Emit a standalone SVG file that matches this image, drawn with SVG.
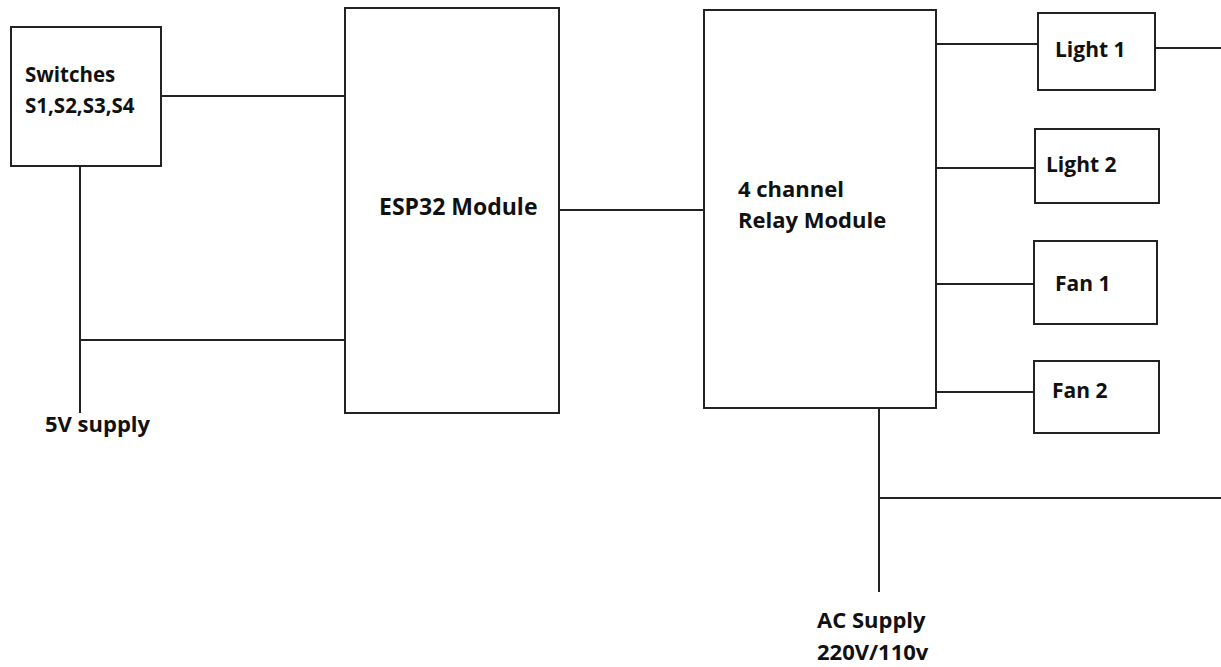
<svg xmlns="http://www.w3.org/2000/svg" width="1221" height="667" viewBox="0 0 1221 667">
<style>
.box{fill:#fff;stroke:#222;stroke-width:2}
.wire{fill:none;stroke:#222;stroke-width:2}
text{font-family:"Open Sans","Noto Sans",sans-serif;font-weight:bold;fill:#111;font-size:21px}
.big{font-size:22px}
.sw{font-size:20.5px}
</style>
<rect width="1221" height="667" fill="#fff"/>
<g id="connectors">
<line class="wire" x1="161" y1="96" x2="345" y2="96"/>
<line class="wire" x1="80" y1="166" x2="80" y2="413"/>
<line class="wire" x1="80" y1="340" x2="345" y2="340"/>
<line class="wire" x1="559" y1="210" x2="704" y2="210"/>
<line class="wire" x1="936" y1="44" x2="1038" y2="44"/>
<line class="wire" x1="1155" y1="48" x2="1221" y2="48"/>
<line class="wire" x1="936" y1="168" x2="1035" y2="168"/>
<line class="wire" x1="936" y1="284" x2="1034" y2="284"/>
<line class="wire" x1="936" y1="392" x2="1034" y2="392"/>
<line class="wire" x1="879" y1="404" x2="879" y2="592"/>
<line class="wire" x1="879" y1="498" x2="1221" y2="498"/>
</g>
<g id="switches">
<rect class="box" x="11" y="27" width="150" height="139"/>
<text class="sw" x="25" y="82">Switches</text>
<text class="sw" x="25" y="113">S1,S2,S3,S4</text>
</g>
<g id="esp32">
<rect class="box" x="345" y="8" width="214" height="405"/>
<text x="379" y="215" style="font-size:23px">ESP32 Module</text>
</g>
<g id="relay">
<rect class="box" x="704" y="10" width="232" height="398"/>
<text class="big" x="738" y="197">4 channel</text>
<text class="big" x="738" y="228">Relay Module</text>
</g>
<g id="light1">
<rect class="box" x="1038" y="13" width="117" height="77"/>
<text x="1055" y="57">Light 1</text>
</g>
<g id="light2">
<rect class="box" x="1035" y="129" width="124" height="74"/>
<text x="1046" y="172">Light 2</text>
</g>
<g id="fan1">
<rect class="box" x="1034" y="241" width="123" height="83"/>
<text x="1055" y="291">Fan 1</text>
</g>
<g id="fan2">
<rect class="box" x="1034" y="361" width="125" height="72"/>
<text x="1052" y="398">Fan 2</text>
</g>
<g id="supply5v">
<text class="big" x="45" y="432">5V supply</text>
</g>
<g id="acsupply">
<text class="big" x="817" y="628">AC Supply</text>
<text class="big" x="817" y="660">220V/110v</text>
</g>
</svg>
